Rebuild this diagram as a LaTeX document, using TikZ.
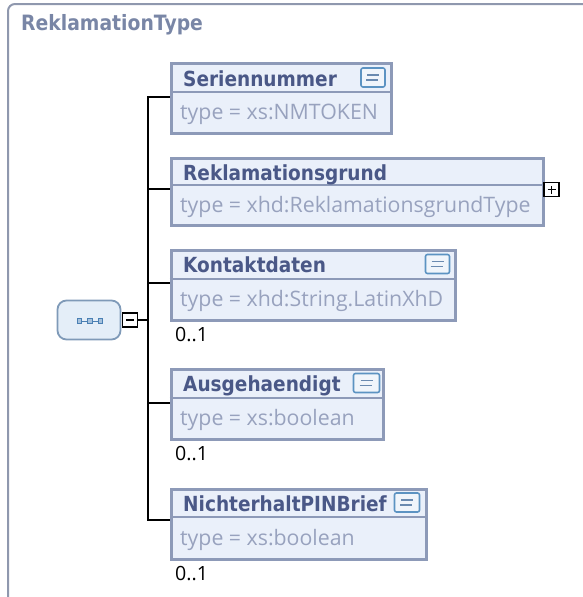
\documentclass[tikz,border=0pt]{standalone}
\usepackage{fontspec}
\setmainfont{Open Sans}
\newfontfamily\hdrfont[FakeStretch=0.89]{DejaVu Sans}
\newfontfamily\typefont{Open Sans}
\usetikzlibrary{calc}
\definecolor{framec}{HTML}{8F98AE}
\definecolor{titlec}{HTML}{7986A6}
\definecolor{boxc}{HTML}{8D9AB8}
\definecolor{boxfill}{HTML}{EAF0FA}
\definecolor{hdrc}{HTML}{4A5887}
\definecolor{typec}{HTML}{98A2BE}
\definecolor{iconc}{HTML}{5C93C2}
\definecolor{iconfill}{HTML}{F0F5FB}
\definecolor{iconline}{HTML}{6A8AB0}
\definecolor{seqc}{HTML}{7F9AB8}
\definecolor{seqfill}{HTML}{E4EEF8}
\definecolor{seqdot}{HTML}{4A80B4}
\tikzset{
  elbox/.style={draw=boxc, line width=3pt, fill=boxfill, anchor=north west, inner sep=0},
  divline/.style={draw=boxc, line width=1.5pt},
  hdrtext/.style={anchor=base west, inner sep=0, text=hdrc, font=\hdrfont\bfseries\fontsize{20.8}{24}\selectfont},
  typetext/.style={anchor=base west, inner sep=0, text=typec, font=\typefont\fontsize{21.3}{25}\selectfont},
  occtext/.style={anchor=base west, inner sep=0, text=black, font=\typefont\fontsize{19.6}{23}\selectfont},
  tree/.style={draw=black, line width=2pt},
  docicon/.style={draw=iconc, line width=1.6pt, fill=iconfill, rounded corners=2pt,
    minimum width=24pt, minimum height=19pt, inner sep=0,
    path picture={
      \draw[iconline, line width=1.4pt] ($(path picture bounding box.center)+(-6pt,2.6pt)$) -- ++(12pt,0);
      \draw[iconline, line width=1.4pt] ($(path picture bounding box.center)+(-7pt,-2.6pt)$) -- ++(12pt,0);
    }},
  togglebox/.style={draw=black, line width=1.5pt, fill=white, minimum width=15pt, minimum height=14pt, inner sep=0},
}
\begin{document}
\begin{tikzpicture}[x=1pt,y=-1pt]
\useasboundingbox (0,0) rectangle (583,597);
\begin{scope}
\clip (0,0) rectangle (583,597);
\draw[framec, line width=2pt, rounded corners=7pt] (8,620) -- (8,4) -- (620,4);
\end{scope}

\node[anchor=base west, inner sep=0, text=titlec, font=\hdrfont\bfseries\fontsize{21.1}{24}\selectfont] (title) at (21,30.7) {ReklamationType};

% sequence node
\node[draw=seqc, line width=1.8pt, fill=seqfill, rounded corners=9pt, minimum width=63pt, minimum height=39pt, inner sep=0] (seq) at (89,320) {};
\coordinate (sq1) at (79.5,321);
\coordinate (sq2) at (90,321);
\coordinate (sq3) at (100.7,321);
\draw[seqdot, line width=1pt] (sq1) -- (sq3);
\foreach \s in {sq1,sq2,sq3}
  \draw[seqdot, line width=1pt, fill=seqfill!60!seqdot] ($(\s)+(-2.2pt,-2.2pt)$) rectangle ($(\s)+(2.2pt,2.2pt)$);
\node[togglebox] (minus) at (130,320) {};
\draw[black, line width=1.5pt] ($(minus.center)+(-4pt,0)$) -- ($(minus.center)+(4pt,0)$);

% element boxes
\node[elbox, minimum width=220pt, minimum height=70pt] (b1) at (169.5,61.5) {};
\node[elbox, minimum width=372pt, minimum height=67pt] (b2) at (169.5,156.5) {};
\node[elbox, minimum width=284pt, minimum height=70pt] (b3) at (169.5,248.5) {};
\node[elbox, minimum width=212pt, minimum height=70pt] (b4) at (169.5,367.5) {};
\node[elbox, minimum width=255pt, minimum height=70pt] (b5) at (169.5,487.5) {};

\draw[divline] (b1.west |- 0,92) -- (b1.east |- 0,92);
\draw[divline] (b2.west |- 0,185) -- (b2.east |- 0,185);
\draw[divline] (b3.west |- 0,279) -- (b3.east |- 0,279);
\draw[divline] (b4.west |- 0,398) -- (b4.east |- 0,398);
\draw[divline] (b5.west |- 0,517) -- (b5.east |- 0,517);

% tree connectors
\coordinate (trunk) at (148,320);
\draw[tree] (minus.east) -- (trunk);
\draw[tree] (trunk) |- (b1.west |- 0,97);
\draw[tree] (trunk) |- (b2.west |- 0,189);
\draw[tree] (trunk) |- (b3.west |- 0,283);
\draw[tree] (trunk) |- (b4.west |- 0,403);
\draw[tree] (trunk) |- (b5.west |- 0,520);

% texts
\node[hdrtext] (h1) at (183,86) {Seriennummer};
\node[typetext] (t1) at (180,119) {type = xs:NMTOKEN};
\node[hdrtext] (h2) at (183,180) {Reklamationsgrund};
\node[typetext] (t2) at (180,212.5) {type = xhd:ReklamationsgrundType};
\node[hdrtext] (h3) at (183,272) {Kontaktdaten};
\node[typetext] (t3) at (180,306.5) {type = xhd:String.LatinXhD};
\node[hdrtext] (h4) at (183,391.5) {Ausgehaendigt};
\node[typetext] (t4) at (180,425) {type = xs:boolean};
\node[hdrtext] (h5) at (183,511) {NichterhaltPINBrief};
\node[typetext] (t5) at (180,545) {type = xs:boolean};

\node[occtext] (o3) at (175,341.5) {0..1};
\node[occtext] (o4) at (175,460.5) {0..1};
\node[occtext] (o5) at (175,580) {0..1};

% documentation icons
\node[docicon] (i1) at (373,77.5) {};
\node[docicon] (i3) at (437.5,264) {};
\node[docicon, minimum width=26pt] (i4) at (366.5,383) {};
\node[docicon, minimum width=25pt] (i5) at (407,502.5) {};

% expand toggle
\node[togglebox] (plus) at (551.5,189.5) {};
\draw[black, line width=1.5pt] ($(plus.center)+(-4pt,0)$) -- ($(plus.center)+(4pt,0)$);
\draw[black, line width=1.5pt] ($(plus.center)+(0,-4pt)$) -- ($(plus.center)+(0,4pt)$);
\end{tikzpicture}
\end{document}
